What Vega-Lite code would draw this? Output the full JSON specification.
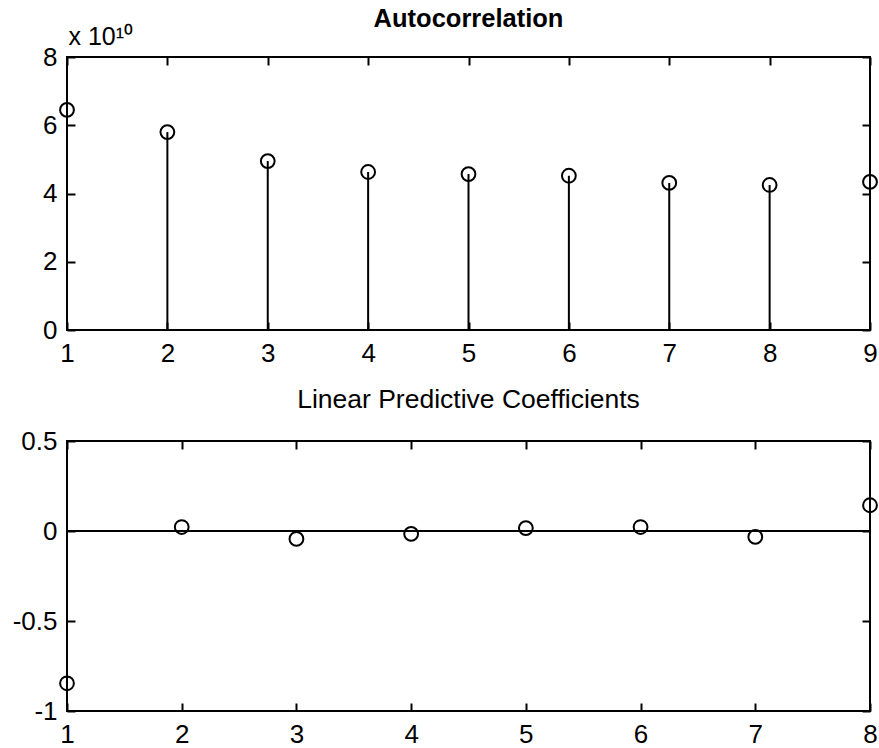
{
  "$schema": "https://vega.github.io/schema/vega-lite/v6.json",
  "background": "white",
  "padding": {"left": 11, "top": 5, "right": 5, "bottom": 0},
  "spacing": 18,
  "config": {
    "view": {"stroke": "black", "strokeWidth": 2},
    "axis": {"domain": false, "grid": false, "tickColor": "black", "tickWidth": 2, "tickSize": -8, "labelPadding": 18, "labelFont": "Liberation Sans", "labelFontSize": 26, "labelColor": "black", "labelFlush": false, "labelOverlap": false},
    "title": {"font": "Liberation Sans", "fontSize": 25, "color": "black", "fontWeight": "normal"}
  },
  "vconcat": [
    {
      "title": {"text": "Autocorrelation", "fontWeight": "bold", "fontSize": 25.5, "offset": -8},
      "width": 803,
      "height": 273,
      "data": {"values": [
        {"lag": 1, "r": 64500000000},
        {"lag": 2, "r": 58000000000},
        {"lag": 3, "r": 49500000000},
        {"lag": 4, "r": 46300000000},
        {"lag": 5, "r": 45700000000},
        {"lag": 6, "r": 45200000000},
        {"lag": 7, "r": 43100000000},
        {"lag": 8, "r": 42500000000},
        {"lag": 9, "r": 43400000000}
      ]},
      "layer": [
        {
          "mark": {"type": "rule", "color": "black", "strokeWidth": 2},
          "encoding": {
            "x": {"field": "lag", "type": "quantitative", "scale": {"domain": [1, 9], "nice": false, "zero": false},
                  "axis": {"orient": "bottom", "values": [1, 2, 3, 4, 5, 6, 7, 8, 9], "format": "d", "title": null}},
            "y": {"field": "r", "type": "quantitative", "scale": {"domain": [0, 80000000000], "nice": false},
                  "axis": {"orient": "left", "values": [0, 20000000000, 40000000000, 60000000000, 80000000000],
                           "labelExpr": "'' + datum.value / 1e10",
                           "title": "x 10¹⁰", "titleAngle": 0, "titleAlign": "left", "titleBaseline": "alphabetic",
                           "titleX": 1, "titleY": -13, "titleFont": "Liberation Sans", "titleFontSize": 25,
                           "titleFontWeight": "normal", "titleColor": "black", "minExtent": 50, "maxExtent": 50}},
            "y2": {"datum": 0}
          }
        },
        {
          "mark": {"type": "point", "shape": "circle", "filled": false, "color": "black", "strokeWidth": 2, "size": 190, "opacity": 1},
          "encoding": {
            "x": {"field": "lag", "type": "quantitative",
                  "axis": {"orient": "top", "labels": false, "values": [1, 2, 3, 4, 5, 6, 7, 8, 9], "title": null}},
            "y": {"field": "r", "type": "quantitative",
                  "axis": {"orient": "right", "labels": false, "values": [0, 20000000000, 40000000000, 60000000000, 80000000000], "title": null}}
          }
        }
      ]
    },
    {
      "title": {"text": "Linear Predictive Coefficients", "fontSize": 26.5, "offset": 15},
      "width": 803,
      "height": 270,
      "data": {"values": [
        {"k": 1, "a": -0.846},
        {"k": 2, "a": 0.022},
        {"k": 3, "a": -0.044},
        {"k": 4, "a": -0.016},
        {"k": 5, "a": 0.016},
        {"k": 6, "a": 0.022},
        {"k": 7, "a": -0.033},
        {"k": 8, "a": 0.143}
      ]},
      "layer": [
        {
          "mark": {"type": "point", "shape": "circle", "filled": false, "color": "black", "strokeWidth": 2, "size": 190, "opacity": 1},
          "encoding": {
            "x": {"field": "k", "type": "quantitative", "scale": {"domain": [1, 8], "nice": false, "zero": false},
                  "axis": {"orient": "bottom", "values": [1, 2, 3, 4, 5, 6, 7, 8], "format": "d", "title": null}},
            "y": {"field": "a", "type": "quantitative", "scale": {"domain": [-1, 0.5], "nice": false, "zero": false},
                  "axis": {"orient": "left", "values": [-1, -0.5, 0, 0.5], "labelExpr": "'' + datum.value", "title": null, "minExtent": 50, "maxExtent": 50}}
          }
        },
        {
          "mark": {"type": "rule", "color": "black", "strokeWidth": 2},
          "encoding": {
            "y": {"datum": 0, "type": "quantitative",
                  "axis": {"orient": "right", "labels": false, "values": [-1, -0.5, 0, 0.5], "title": null}}
          }
        },
        {
          "mark": {"type": "point", "shape": "circle", "filled": false, "color": "black", "strokeWidth": 2, "size": 190, "opacity": 0},
          "encoding": {
            "x": {"field": "k", "type": "quantitative",
                  "axis": {"orient": "top", "labels": false, "values": [1, 2, 3, 4, 5, 6, 7, 8], "title": null}},
            "y": {"field": "a", "type": "quantitative", "axis": null}
          }
        }
      ]
    }
  ]
}
